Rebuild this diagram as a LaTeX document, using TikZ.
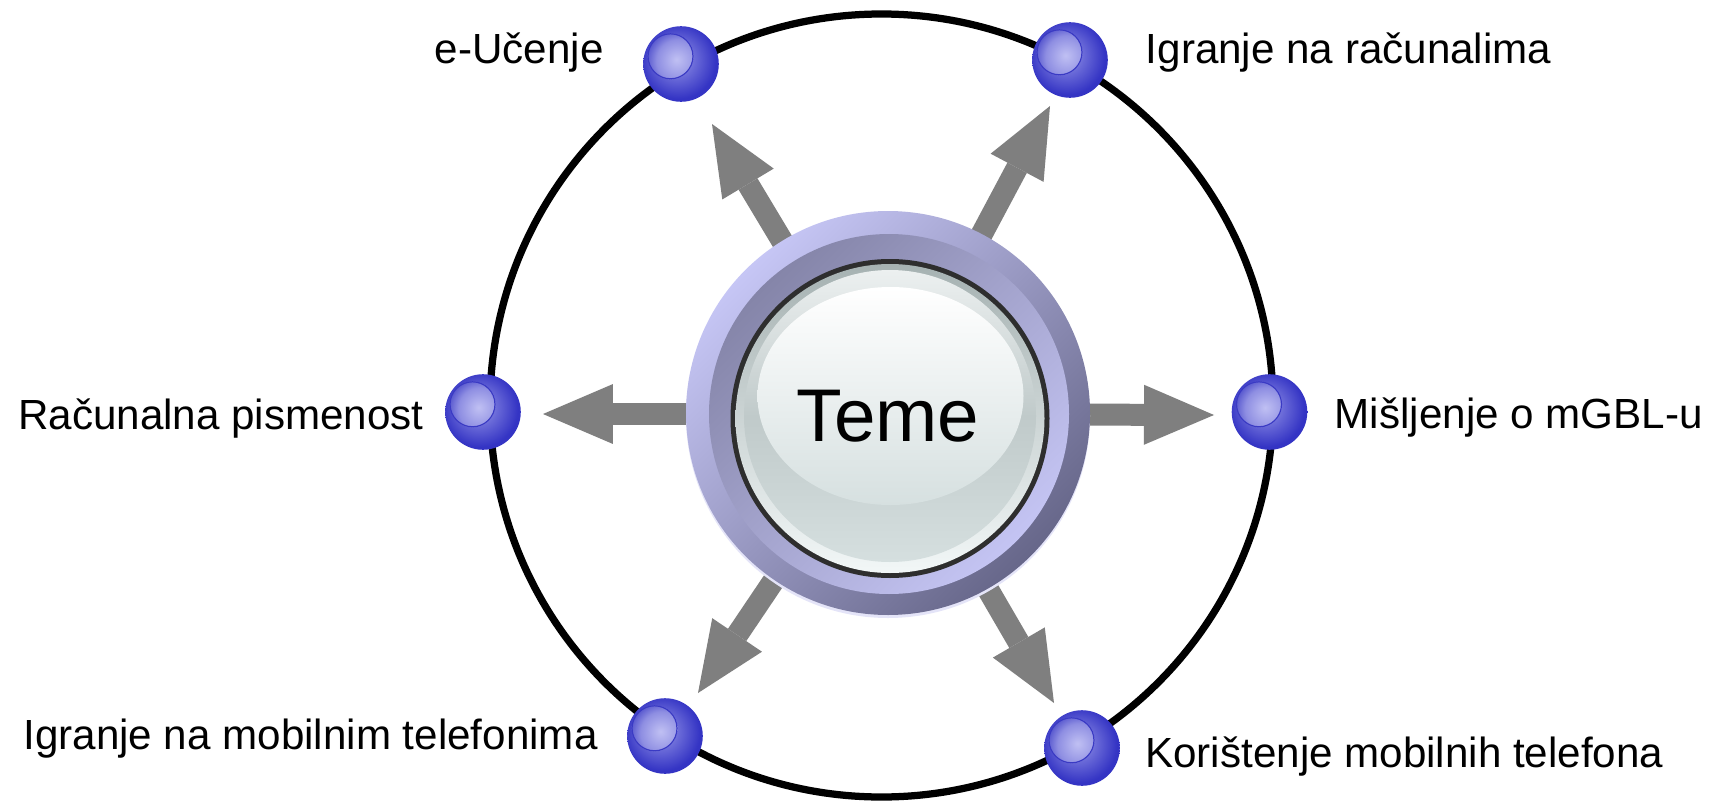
\documentclass[tikz,border=0pt]{standalone}
\usepackage{fontspec}
\setmainfont{Liberation Sans}
\usetikzlibrary{arrows.meta}

% palette
\definecolor{arrowgray}{HTML}{7F7F7F}
\definecolor{ringglow}{HTML}{E4E4F8}
\definecolor{ringlight}{HTML}{C6C6F5}
\definecolor{ringdark}{HTML}{67678A}
\definecolor{bandlight}{HTML}{C4C4F3}
\definecolor{banddark}{HTML}{8585A9}
\definecolor{rimtop}{HTML}{A6B2B2}
\definecolor{rimbot}{HTML}{F2F7F7}
\definecolor{facetop}{HTML}{ECF0F0}
\definecolor{facemid}{HTML}{C0CACA}
\definecolor{facebot}{HTML}{D5DFDF}
\definecolor{lenstop}{HTML}{FFFFFF}
\definecolor{lensbot}{HTML}{D6E0E0}
\definecolor{ballA}{HTML}{A6A6EC}
\definecolor{ballB}{HTML}{6A6AD8}
\definecolor{ballC}{HTML}{3434C4}
\definecolor{innerA}{HTML}{C0C0F3}
\definecolor{innerB}{HTML}{8E8EE2}
\definecolor{innerC}{HTML}{3A3AC4}

% glossy sphere shadings
\pgfdeclareradialshading{ballouter}{\pgfpoint{-4bp}{4bp}}{color(0bp)=(ballA); color(12bp)=(ballB); color(25bp)=(ballC); color(50bp)=(ballC)}
\pgfdeclareradialshading{ballinner}{\pgfpoint{-3bp}{3bp}}{color(0bp)=(innerA); color(14bp)=(innerB); color(25bp)=(innerC); color(50bp)=(innerC)}

\tikzset{
  ballnode/.style={circle, minimum size=1.512cm, inner sep=0pt, shade, shading=ballouter,
    path picture={
      \shade[shading=ballinner] ([xshift=-0.21cm, yshift=0.154cm]path picture bounding box.center) circle[radius=0.46cm];
      \draw[innerC, line width=0.024cm] ([xshift=-0.21cm, yshift=0.154cm]path picture bounding box.center) circle[radius=0.45cm];
    }},
  blockarrow/.style={arrowgray, line width=0.44cm,
    -{Triangle[length=1.4cm, width=1.2cm, line width=0pt]}},
  lbl/.style={font=\fontsize{24pt}{28pt}\selectfont, inner sep=0pt},
  hublabel/.style={font=\fontsize{42.5pt}{50pt}\selectfont, inner sep=0pt},
}

\begin{document}
\begin{tikzpicture}[x=0.02cm, y=-0.02cm]
  \useasboundingbox (0,0) rectangle (1718,801);
  \fill[white] (0,0) rectangle (1718,801);

  % orbit
  \draw[line width=0.145cm] (881.5,405.5) circle (391.5);

  % arrow anchors
  \coordinate (hubc) at (886,414);
  \coordinate (tUL) at (712,124);
  \coordinate (tUR) at (1050,106);
  \coordinate (tL)  at (543,414);
  \coordinate (tR)  at (1214,415);
  \coordinate (tDL) at (698,693);
  \coordinate (tDR) at (1054,703);

  \draw[blockarrow] (hubc) -- (tUL);
  \draw[blockarrow] (hubc) -- (tUR);
  \draw[blockarrow] (hubc) -- (tL);
  \draw[blockarrow] (hubc) -- (tR);
  \draw[blockarrow] (hubc) -- (tDL);
  \draw[blockarrow] (hubc) -- (tDR);

  % central button
  \fill[ringglow] (888,416) circle (202);
  \shade[top color=ringlight, bottom color=ringdark, shading angle=45] (888,413) circle (202);
  \shade[top color=banddark, bottom color=bandlight, shading angle=45] (889,414) circle (180);
  \fill[black!82] (890,418.5) circle (159.5);
  \shade[top color=rimtop, bottom color=rimbot] (890,418.5) circle (154.5);
  \shade[top color=facetop, bottom color=facebot, middle color=facemid] (890,416) circle (146);
  \shade[top color=lenstop, bottom color=lensbot] (890.5,396) ellipse [x radius=133, y radius=109];
  \node[hublabel] (hub) at (888,416) {Teme};

  % topic balls
  \node[ballnode] (b1) at (681,64) {};
  \node[ballnode] (b2) at (1070,60) {};
  \node[ballnode] (b3) at (483,412) {};
  \node[ballnode] (b4) at (1269.5,412) {};
  \node[ballnode] (b5) at (665,736) {};
  \node[ballnode] (b6) at (1082,748) {};

  % topic labels
  \node[lbl, anchor=base east] (l1) at (604,63.5) {e-Učenje};
  \node[lbl, anchor=base west] (l2) at (1145.5,63.5) {Igranje na računalima};
  \node[lbl, anchor=base east] (l3) at (424,429.5) {Računalna pismenost};
  \node[lbl, anchor=base west] (l4) at (1334.5,428.5) {Mišljenje o mGBL-u};
  \node[lbl, anchor=base west] (l5) at (23,749.5) {Igranje na mobilnim telefonima};
  \node[lbl, anchor=base west] (l6) at (1145,767) {Korištenje mobilnih telefona};
\end{tikzpicture}
\end{document}
